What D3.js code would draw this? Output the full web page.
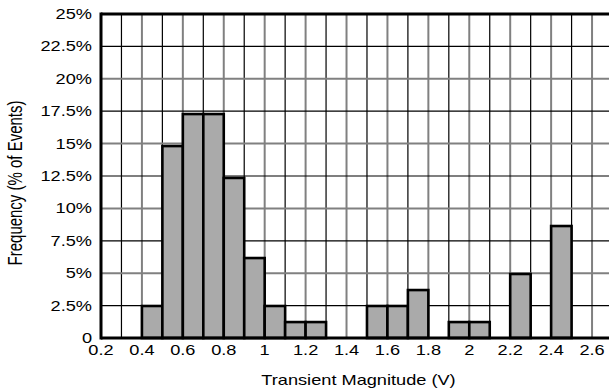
<!DOCTYPE html>
<html>
<head>
<meta charset="utf-8">
<script src="https://cdn.jsdelivr.net/npm/d3@7"></script>
<style>
  html, body { margin: 0; padding: 0; background: #fff; }
  svg { display: block; }
  text { font-family: "Liberation Sans", Arial, sans-serif; fill: #000; }
</style>
</head>
<body>
<svg id="chart" width="609" height="392"></svg>
<script>
// Histogram bins (lower edge, V) and the share of events in each bin (%)
const binStarts = [0.4, 0.5, 0.6, 0.7, 0.8, 0.9, 1.0, 1.1, 1.2, 1.5, 1.6, 1.7, 1.9, 2.0, 2.2, 2.4];
const binWidth = 0.1;
const frequencies = [2.47, 14.81, 17.28, 17.28, 12.35, 6.17, 2.47, 1.23, 1.23, 2.47, 2.47, 3.70, 1.23, 1.23, 4.94, 8.64];

const xTicks = [0.2, 0.4, 0.6, 0.8, 1.0, 1.2, 1.4, 1.6, 1.8, 2.0, 2.2, 2.4, 2.6];
const yTicks = [0, 2.5, 5, 7.5, 10, 12.5, 15, 17.5, 20, 22.5, 25];
const xTitle = "Transient Magnitude (V)";
const yTitle = "Frequency (% of Events)";

const svg = d3.select("#chart");
const plotLeft = 101, plotRight = 612.5, plotTop = 14, plotBottom = 338;
const stretch = 1.3;

const x = d3.scaleLinear().domain([0.2, 2.7]).range([plotLeft, plotRight]);
const y = d3.scaleLinear().domain([0, 25]).range([plotBottom, plotTop]);

// vertical grid: every 0.1 V, even tenths grey, odd tenths black
const xGrid = d3.range(3, 27).map(i => i / 10);
svg.append("g").selectAll("line").data(xGrid).join("line")
  .attr("x1", d => x(d)).attr("x2", d => x(d))
  .attr("y1", plotTop).attr("y2", plotBottom)
  .attr("stroke", d => Math.round(d * 10) % 2 === 0 ? "#808080" : "#000")
  .attr("stroke-width", d => Math.round(d * 10) % 2 === 0 ? 2 : 1.2);

// horizontal grid: multiples of 5% grey, the others black
svg.append("g").selectAll("line").data(yTicks.filter(v => v > 0 && v < 25)).join("line")
  .attr("x1", plotLeft).attr("x2", 609)
  .attr("y1", d => y(d)).attr("y2", d => y(d))
  .attr("stroke", d => d % 5 === 0 ? "#808080" : "#000")
  .attr("stroke-width", d => d % 5 === 0 ? 2 : 1.2);

// bars
svg.append("g").selectAll("rect").data(binStarts).join("rect")
  .attr("x", d => x(d))
  .attr("width", d => x(d + binWidth) - x(d))
  .attr("y", (d, i) => y(frequencies[i]))
  .attr("height", (d, i) => y(0) - y(frequencies[i]))
  .attr("fill", "#aaaaaa")
  .attr("stroke", "#000")
  .attr("stroke-width", 2.6);

// frame: left axis, top border and baseline
svg.append("line").attr("x1", plotLeft).attr("x2", plotLeft).attr("y1", plotTop - 1.5).attr("y2", plotBottom + 1.5)
  .attr("stroke", "#000").attr("stroke-width", 3);
svg.append("line").attr("x1", plotLeft).attr("x2", 609).attr("y1", plotTop).attr("y2", plotTop)
  .attr("stroke", "#000").attr("stroke-width", 3);
svg.append("line").attr("x1", plotLeft).attr("x2", 609).attr("y1", plotBottom).attr("y2", plotBottom)
  .attr("stroke", "#000").attr("stroke-width", 3);

// y tick labels
const yFmt = v => v === 0 ? "0" : d3.format("~g")(v) + "%";
svg.append("g").selectAll("text").data(yTicks).join("text")
  .attr("transform", d => `translate(${plotLeft - 9},${y(d) + 5}) scale(${stretch},1)`)
  .attr("text-anchor", "end")
  .attr("font-size", 14)
  .text(yFmt);

// x tick labels
svg.append("g").selectAll("text").data(xTicks).join("text")
  .attr("transform", d => `translate(${x(d)},${plotBottom + 17}) scale(${stretch},1)`)
  .attr("text-anchor", "middle")
  .attr("font-size", 14)
  .text(d => d3.format("~g")(d));

// axis titles
svg.append("text")
  .attr("transform", `translate(358.5,385) scale(${stretch},1)`)
  .attr("text-anchor", "middle")
  .attr("font-size", 14)
  .text(xTitle);

svg.append("text")
  .attr("transform", `translate(22,183) scale(${stretch},1) rotate(-90)`)
  .attr("text-anchor", "middle")
  .attr("font-size", 15)
  .text(yTitle);
</script>
</body>
</html>
